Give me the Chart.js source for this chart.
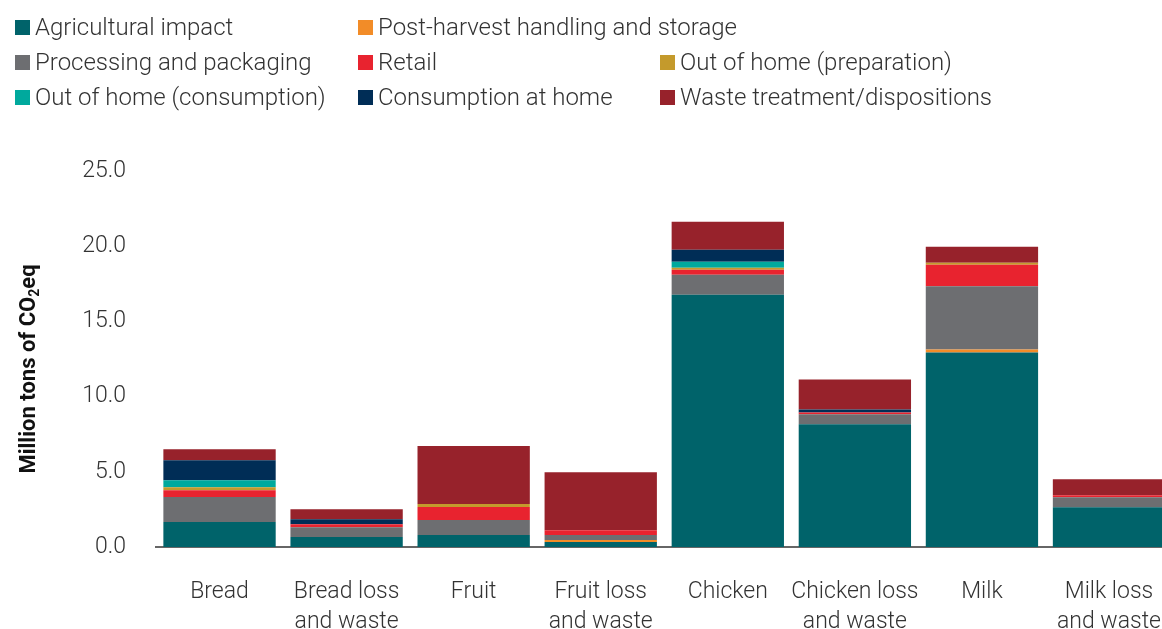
<!DOCTYPE html>
<html>
<head>
<meta charset="utf-8">
<script src="https://cdn.jsdelivr.net/npm/chart.js"></script>
<style>
  html, body { margin: 0; padding: 0; background: #fff; overflow: hidden; }
  #wrap { position: relative; width: 1162px; height: 629px; overflow: hidden; }
  #chart { position: absolute; left: 0; top: 0; }
  #legend { position: absolute; left: 15px; top: 12px; font-family: Roboto, 'Open Sans', sans-serif; font-weight: 300; font-size: 24px; color: #333; }
  .item { position: absolute; white-space: nowrap; display: flex; align-items: center; height: 30px; }
  .box { width: 15px; height: 15px; margin-right: 5px; }
</style>
</head>
<body>
<div id="wrap">
  <canvas id="chart" width="1192" height="629"></canvas>
  <div id="legend"></div>
</div>
<script>
  // categories (bottom of the stack first for the series)
  const categories = ['Bread', ['Bread loss', 'and waste'], 'Fruit', ['Fruit loss', 'and waste'],
    'Chicken', ['Chicken loss', 'and waste'], 'Milk', ['Milk loss', 'and waste']];

  const agricultural = [1.66, 0.66, 0.80, 0.33, 16.78, 8.16, 12.93, 2.65];
  const postHarvest = [0, 0, 0, 0.13, 0, 0, 0.20, 0];
  const processing = [1.66, 0.66, 1.00, 0.33, 1.33, 0.66, 4.20, 0.66];
  const retail = [0.46, 0.20, 0.86, 0.33, 0.33, 0.13, 1.44, 0.13];
  const oohPreparation = [0.20, 0, 0.20, 0, 0.13, 0, 0.13, 0];
  const oohConsumption = [0.46, 0, 0, 0, 0.40, 0, 0, 0];
  const homeConsumption = [1.33, 0.33, 0, 0, 0.80, 0.20, 0, 0];
  const wasteTreatment = [0.73, 0.66, 3.85, 3.85, 1.86, 1.99, 1.06, 1.06];

  const yTicks = [0, 5, 10, 15, 20, 25];

  const FONT = 'Roboto, "Open Sans", sans-serif';
  const TEXT = '#333';

  const series = [
    { label: 'Agricultural impact', data: agricultural, color: '#00636a', col: 0, row: 0 },
    { label: 'Post-harvest handling and storage', data: postHarvest, color: '#f28c28', col: 1, row: 0 },
    { label: 'Processing and packaging', data: processing, color: '#6d6e71', col: 0, row: 1 },
    { label: 'Retail', data: retail, color: '#e8232f', col: 1, row: 1 },
    { label: 'Out of home (preparation)', data: oohPreparation, color: '#c49a2c', col: 2, row: 1 },
    { label: 'Out of home (consumption)', data: oohConsumption, color: '#00a99d', col: 0, row: 2 },
    { label: 'Consumption at home', data: homeConsumption, color: '#002d56', col: 1, row: 2 },
    { label: 'Waste treatment/dispositions', data: wasteTreatment, color: '#97222b', col: 2, row: 2 }
  ];

  const COL_X = [0, 343, 645];
  const ROW_Y = [0, 35, 70];

  /* ===== y axis title with a real subscript ===== */
  const yTitle = {
    id: 'yTitle',
    afterDraw: function (chart) {
      const ctx = chart.ctx;
      ctx.save();
      ctx.translate(29, 369);
      ctx.rotate(-Math.PI / 2);
      ctx.fillStyle = '#111';
      ctx.textBaseline = 'middle';
      const big = 'bold 22px ' + FONT;
      const small = 'bold 14px ' + FONT;
      const parts = [['Million tons of CO', big, 0], ['2', small, 6], ['eq', big, 0]];
      let w = 0;
      parts.forEach(p => { ctx.font = p[1]; w += ctx.measureText(p[0]).width; });
      let x = -w / 2;
      ctx.textAlign = 'left';
      parts.forEach(p => {
        ctx.font = p[1];
        ctx.fillText(p[0], x, p[2]);
        x += ctx.measureText(p[0]).width;
      });
      ctx.restore();
    }
  };

  const chart = new Chart(document.getElementById('chart').getContext('2d'), {
    type: 'bar',
    data: {
      labels: categories,
      datasets: series.map(s => ({
        label: s.label,
        data: s.data,
        backgroundColor: s.color,
        borderWidth: 0,
        barPercentage: 0.884,
        categoryPercentage: 1
      }))
    },
    plugins: [yTitle],
    options: {
      responsive: false,
      animation: false,
      layout: { padding: { top: 171, right: 0, left: 0, bottom: 0 } },
      plugins: {
        legend: { display: false },
        tooltip: { enabled: false }
      },
      scales: {
        x: {
          stacked: true,
          grid: { display: false, drawTicks: false },
          border: { display: true, color: '#666', width: 2 },
          ticks: {
            color: TEXT,
            padding: 31,
            maxRotation: 0,
            autoSkip: false,
            font: { family: FONT, size: 23, weight: 300, lineHeight: 1.27 }
          },
          afterFit: function (scale) { scale.height = 82; }
        },
        y: {
          stacked: true,
          min: 0,
          max: 25,
          grid: { display: false, drawTicks: false },
          border: { display: false },
          afterBuildTicks: function (scale) {
            scale.ticks = yTicks.map(v => ({ value: v }));
          },
          ticks: {
            color: TEXT,
            padding: 30,
            font: { family: FONT, size: 23, weight: 300 },
            callback: function (value) { return value.toFixed(1); }
          },
          afterFit: function (scale) { scale.width = 156; }
        }
      }
    }
  });

  /* ===== legend (3-column grid, built from the chart) ===== */
  const legend = document.getElementById('legend');
  chart.data.datasets.forEach((ds, i) => {
    const item = document.createElement('div');
    item.className = 'item';
    item.style.left = COL_X[series[i].col] + 'px';
    item.style.top = ROW_Y[series[i].row] + 'px';
    const box = document.createElement('span');
    box.className = 'box';
    box.style.background = ds.backgroundColor;
    const txt = document.createElement('span');
    txt.textContent = ds.label;
    item.appendChild(box);
    item.appendChild(txt);
    legend.appendChild(item);
  });
</script>
</body>
</html>
